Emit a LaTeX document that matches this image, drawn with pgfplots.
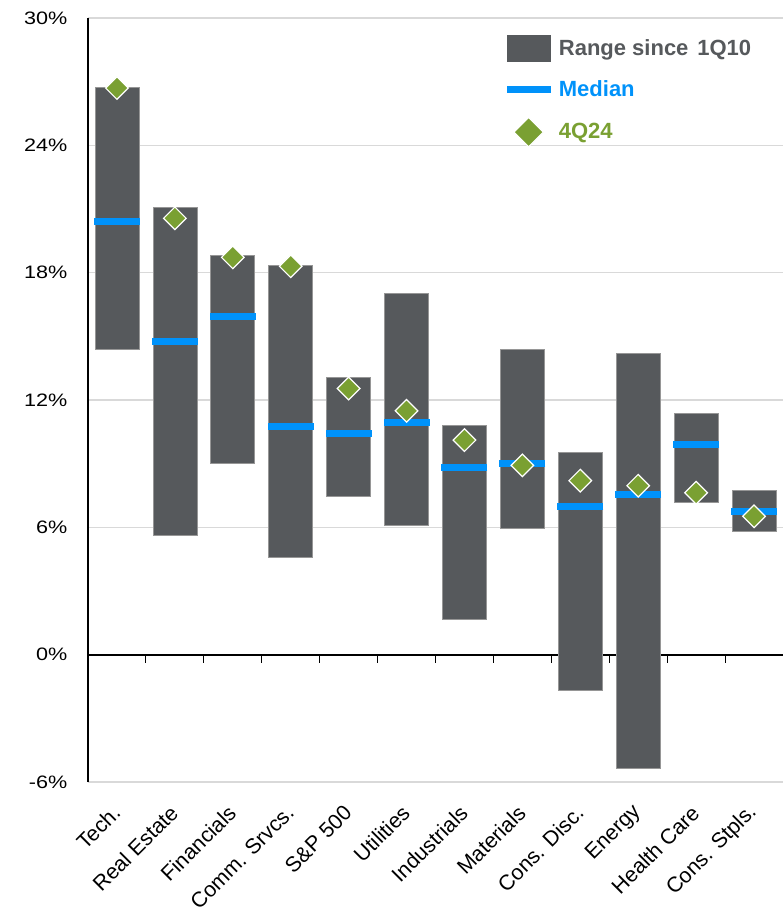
\documentclass[border=0pt]{standalone}
\usepackage{fontspec}
\setmainfont{Liberation Sans}
\newfontfamily\tickfont{Liberation Sans}[FakeStretch=1.2]
\usepackage{pgfplots}
\usepackage{pgfplotstable}
\usepgfplotslibrary{statistics}
\pgfplotsset{compat=1.18}

\definecolor{barcol}{RGB}{86,89,92}
\definecolor{bordcol}{RGB}{150,150,150}
\definecolor{medcol}{RGB}{0,146,250}
\definecolor{qcol}{RGB}{122,160,50}
\definecolor{gridcol}{RGB}{217,217,217}

% median and 4Q24 value, in %
\pgfplotstableread{
x  med    q
0  20.41  26.70
1  14.74  20.56
2  15.95  18.72
3  10.77  18.30
4  10.44  12.54
5  10.93  11.49
6  8.82   10.11
7  9.02   8.92
8  6.99   8.20
9  7.54   7.96
10 9.90   7.63
11 6.74   6.52
}\sectors

% range since 1Q10: position, low, high
\newcommand\rangebar[3]{%
  \addplot[boxplot prepared={draw position=#1,
      lower whisker=#2, lower quartile=#2, median=#2,
      upper quartile=#3, upper whisker=#3}] coordinates {};}

\pgfplotsset{
  common/.style={
    scale only axis, width=521.25pt, height=573pt,
    xmin=-0.5, xmax=11.5, ymin=-6, ymax=30,
  },
}

\begin{document}
\begin{tikzpicture}
\begin{axis}[
  common,
  axis x line*=bottom, axis y line*=left, axis line style={-},
  x axis line style={draw=none},
  y axis line style={black, line width=0.9pt},
  xtick={0,...,11},
  xticklabels={Tech.,Real Estate,Financials,Comm. Srvcs.,S\&P 500,Utilities,Industrials,Materials,Cons. Disc.,Energy,Health Care,Cons. Stpls.},
  xticklabel style={xshift=2pt, yshift=-18pt, rotate=45, anchor=east, font=\fontsize{16}{18}\selectfont},
  ytick={-6,0,6,12,18,24,30},
  yticklabels={-6\%,0\%,6\%,12\%,18\%,24\%,30\%},
  yticklabel style={xshift=-12pt, font=\tickfont\fontsize{13.5}{16}\selectfont},
  xtick style={draw=none}, ytick style={draw=none},
  ymajorgrids, grid style={gridcol, line width=0.8pt},
  extra y ticks={0}, extra y tick labels={},
  extra y tick style={grid style={black, line width=1.3pt}},
  boxplot/draw direction=y,
  boxplot/box extend=0.76,
  boxplot/every box/.style={fill=barcol, draw=bordcol, line width=0.5pt},
  boxplot/every whisker/.style={draw=none},
  boxplot/every median/.style={draw=none},
]
\rangebar{0}{14.38}{26.73}
\rangebar{1}{5.63}{21.07}
\rangebar{2}{9.02}{18.80}
\rangebar{3}{4.60}{18.36}
\rangebar{4}{7.47}{13.05}
\rangebar{5}{6.10}{17.01}
\rangebar{6}{1.67}{10.80}
\rangebar{7}{5.97}{14.37}
\rangebar{8}{-1.70}{9.52}
\rangebar{9}{-5.34}{14.22}
\rangebar{10}{7.20}{11.39}
\rangebar{11}{5.83}{7.74}
\pgfplotsinvokeforeach{0.5,1.5,2.5,3.5,4.5,5.5,6.5,7.5,8.5,9.5,10.5}{
  \draw[black, line width=0.8pt] (axis cs:#1,0) -- ++(0pt,-6pt);
}
\coordinate (bl) at (rel axis cs:0,0);
\coordinate (tr) at (rel axis cs:1,1);
\end{axis}

\begin{axis}[
  common, hide axis,
  legend style={at={(0.603,0.978)}, anchor=north west, draw=none, fill=none,
    inner sep=0pt, row sep=12pt, column sep=4pt,
    font=\bfseries\fontsize{16.5}{19}\selectfont},
  legend cell align=left,
]
\addlegendimage{legend image code/.code={\fill[barcol] (0pt,-9.75pt) rectangle (32.25pt,9.75pt);}}
\addlegendentry{\textcolor{barcol}{Range since\hspace{0.4em}1Q10}}
\addlegendimage{legend image code/.code={\fill[medcol] (0pt,-2.6pt) rectangle (32.25pt,2.6pt);}}
\addlegendentry{\textcolor{medcol}{Median}}
\addlegendimage{legend image code/.code={\filldraw[fill=qcol, draw=white, line width=0.8pt] (15.75pt,-11pt) -- (26.75pt,0pt) -- (15.75pt,11pt) -- (4.75pt,0pt) -- cycle;}}
\addlegendentry{\textcolor{qcol}{4Q24}}
\addplot[only marks, mark=-, mark size=17.25pt, mark options={draw=medcol, line width=5.25pt}, forget plot]
  table[x=x, y=med] {\sectors};
\addplot[only marks, mark=square*, mark size=6pt, mark options={rotate=45, fill=qcol, draw=white, line width=0.9pt}, forget plot]
  table[x=x, y=q] {\sectors};
\end{axis}
\pgfresetboundingbox
\path ([shift={(-66pt,-96pt)}]bl) rectangle ([shift={(0pt,13.5pt)}]tr);
\end{tikzpicture}
\end{document}
